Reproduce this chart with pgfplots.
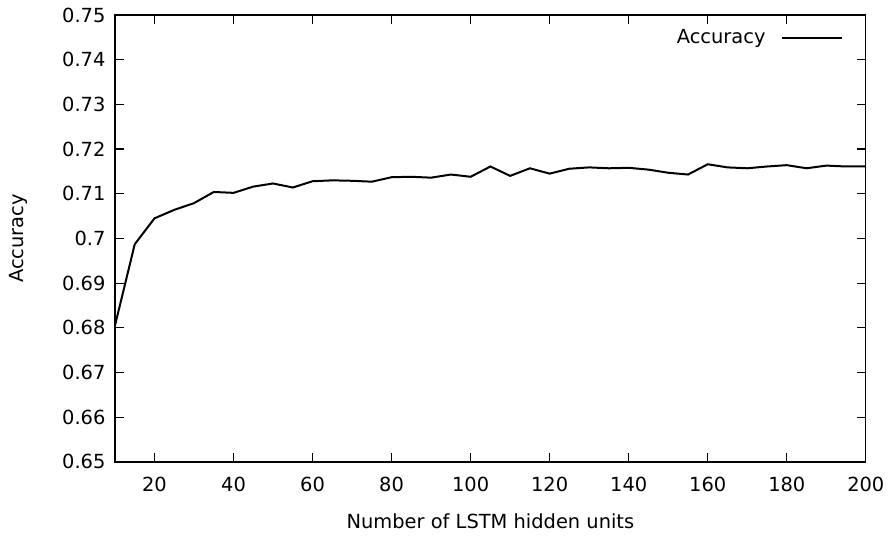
\documentclass[border=0pt]{standalone}
\usepackage{fontspec}
\setmainfont{DejaVu Sans}
\usepackage{pgfplots}
\pgfplotsset{compat=1.18}
\begin{document}
\begin{tikzpicture}[font=\fontsize{9.75}{11.7}\selectfont]
	\begin{axis}[
	scale only axis,
	width=375.5bp,
	height=223.5bp,
	xmin=10, xmax=200,
	ymin=0.65, ymax=0.75,
	xtick={20,40,...,200},
	ytick={0.65,0.66,0.67,0.68,0.69,0.70,0.71,0.72,0.73,0.74,0.75},
	/pgf/number format/assume math mode=true,
	yticklabel style={/pgf/number format/fixed,/pgf/number format/precision=2,xshift=-1.25bp},
	xticklabel style={anchor=center,yshift=-11.5bp},
	tick align=inside,
	major tick length=4.5bp,
	tick style={black,line width=0.6pt},
	axis line style={line width=0.6pt},
	xlabel={Number of LSTM hidden units},
	ylabel={Accuracy},
	xlabel style={at={(axis description cs:0.5,-0.132)},anchor=center},
	ylabel style={at={(axis description cs:-0.129,0.5)},anchor=center},
	legend plot pos=right,
	legend style={draw=none,fill=none,at={(axis description cs:1,1)},anchor=north east,xshift=-8bp,yshift=-3bp},
	legend image code/.code={\path (0bp,0bp); \draw[#1] (6bp,0bp) -- (36bp,0bp);},
	]
	%accuracy vs hidden units
	\addplot[black,line width=1bp] coordinates {
		(10,0.6805) (15,0.6987) (20,0.7045) (25,0.7064) (30,0.7079)
		(35,0.7104) (40,0.7102) (45,0.7116) (50,0.7123) (55,0.7114)
		(60,0.7128) (65,0.7130) (70,0.7129) (75,0.7127) (80,0.7137)
		(85,0.7138) (90,0.7136) (95,0.7143) (100,0.7138) (105,0.7161)
		(110,0.7140) (115,0.7157) (120,0.7145) (125,0.7156) (130,0.7159)
		(135,0.7157) (140,0.7158) (145,0.7154) (150,0.7147) (155,0.7143)
		(160,0.7166) (165,0.7159) (170,0.7157) (175,0.7161) (180,0.7164)
		(185,0.7157) (190,0.7163) (195,0.7161) (200,0.7161)
	};
	\legend{Accuracy}
	\end{axis}
	\path[use as bounding box] (-57.5bp,-33.5bp) rectangle (388bp,231bp);
\end{tikzpicture}
\end{document}
